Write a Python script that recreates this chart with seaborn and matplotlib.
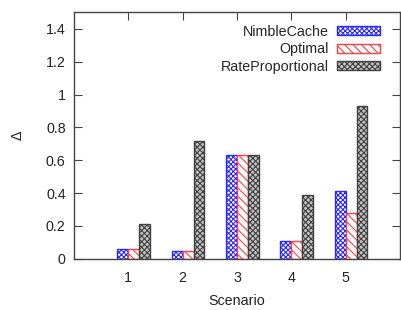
import pandas as pd
import seaborn as sns
import matplotlib
matplotlib.use('Agg')
import matplotlib.pyplot as plt
import matplotlib.patches as mpatches

# Data
scenarios = [1, 2, 3, 4, 5]
methods = ['NimbleCache', 'Optimal', 'RateProportional']
nimble = [0.06, 0.05, 0.63, 0.11, 0.41]
optimal = [0.06, 0.05, 0.63, 0.11, 0.28]
rateprop = [0.21, 0.72, 0.63, 0.39, 0.93]
yticks = [0, 0.2, 0.4, 0.6, 0.8, 1, 1.2, 1.4]
ytick_labels = ['0', '0.2', '0.4', '0.6', '0.8', '1', '1.2', '1.4']

df = pd.DataFrame({
    'Scenario': scenarios * 3,
    'method': [m for m in methods for _ in scenarios],
    'delta': nimble + optimal + rateprop,
})

sns.set_theme(style='white')
plt.rcParams['font.family'] = ['Liberation Sans', 'DejaVu Sans']
plt.rcParams['hatch.linewidth'] = 0.8

# face colour, hatch/edge colour, hatch pattern per method
faces = ['white', 'white', '#c4c4c4']
edges = ['#2a2aff', '#ff4040', '#404040']
hatches = ['xxxxxxx', '\\\\\\\\', 'xxxxxx']

fs = 10.3

fig = plt.figure(figsize=(4.02, 3.10), dpi=100)
ax = fig.add_axes([0.184, 0.165, 0.811, 0.795])

sns.barplot(data=df, x='Scenario', y='delta', hue='method', hue_order=methods,
            native_scale=True, width=0.6, errorbar=None, palette=faces,
            legend=False, ax=ax)

for cont, fc, ec, h in zip(ax.containers, faces, edges, hatches):
    for bar in cont:
        bar.set_facecolor(fc)
        bar.set_edgecolor(ec)
        bar.set_hatch(h)
        bar.set_linewidth(1.0)
        bar.set_x(bar.get_x() + 0.1)

ax.set_xlim(0, 6)
ax.set_ylim(0, 1.5)
ax.set_xticks(scenarios)
ax.set_xticklabels([str(s) for s in scenarios])
ax.set_yticks(yticks)
ax.set_yticklabels(ytick_labels)

for sp in ax.spines.values():
    sp.set_color('#444444')
    sp.set_linewidth(1.0)

ax.tick_params(axis='y', direction='in', left=True, right=True, length=6,
               width=0.8, color='#444444', pad=6, labelsize=fs,
               labelcolor='#222222')
ax.tick_params(axis='x', direction='in', bottom=False, top=True, length=6,
               width=0.8, color='#444444', pad=9, labelsize=fs,
               labelcolor='#222222')

ax.set_xlabel('Scenario', fontsize=fs, color='#222222', labelpad=6)
ax.set_ylabel('Δ', fontsize=fs, color='#222222', labelpad=15)

handles = [mpatches.Patch(facecolor=fc, edgecolor=ec, hatch=h, linewidth=1.0)
           for fc, ec, h in zip(faces, edges, hatches)]
ax.legend(handles, methods, loc='upper right', frameon=False, markerfirst=False,
          fontsize=fs, handlelength=3.0, handleheight=0.6, handletextpad=0.6,
          labelspacing=0.25, bbox_to_anchor=(0.965, 0.985), borderaxespad=0.2)

fig.savefig('out.png', dpi=100)
